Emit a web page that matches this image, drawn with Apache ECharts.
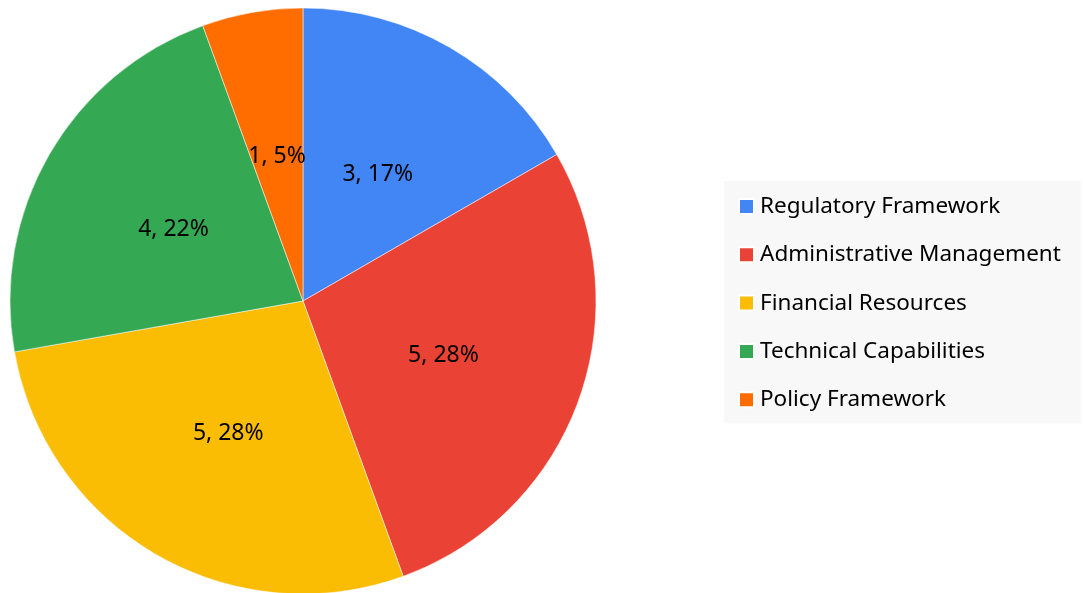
<!DOCTYPE html>
<html>
<head>
<meta charset="utf-8">
<script src="https://cdn.jsdelivr.net/npm/echarts@6/dist/echarts.min.js"></script>
<style>
  html, body { margin: 0; padding: 0; background: #fff; }
  #draw { width: 1083px; height: 593px; }
</style>
</head>
<body>
<div id="draw"></div>
<script>
  // 数据
  var categories = ['Regulatory Framework', 'Administrative Management', 'Financial Resources', 'Technical Capabilities', 'Policy Framework']
  var values = [3, 5, 5, 4, 1]
  var colors = ['#4285F4', '#EA4335', '#FBBC04', '#34A853', '#FF6D01']

  var seriesData = []
  for (var i = 0; i < categories.length; i++) {
    seriesData.push({ name: categories[i], value: values[i] })
  }

  var myChart = echarts.init(document.getElementById('draw'))
  myChart.setOption({
    animation: false,
    color: colors,
    legend: { //  图例
      orient: 'vertical',
      left: 724,
      top: 181,
      icon: 'rect',
      itemWidth: 15,
      itemHeight: 15,
      itemGap: 25.3,
      padding: [14, 20, 12, 14],
      backgroundColor: '#f8f8f8',
      textStyle: {
        fontFamily: 'Noto Sans',
        fontSize: 22.5,
        color: '#000',
        padding: [0, 0, 0, 1]
      },
      data: categories
    },
    series: [{
      type: 'pie',
      center: [303, 301],
      radius: [0, 293],
      startAngle: 90,
      clockwise: true,
      percentPrecision: 0,
      label: {
        position: 'inside',
        formatter: '{c}, {d}%',
        fontFamily: 'Noto Sans',
        fontSize: 23,
        color: '#000',
        offset: [0, 3]
      },
      labelLine: { show: false },
      itemStyle: {
        borderColor: '#fff',
        borderWidth: 0.5
      },
      emphasis: { disabled: true },
      data: seriesData
    }]
  })
</script>
</body>
</html>
